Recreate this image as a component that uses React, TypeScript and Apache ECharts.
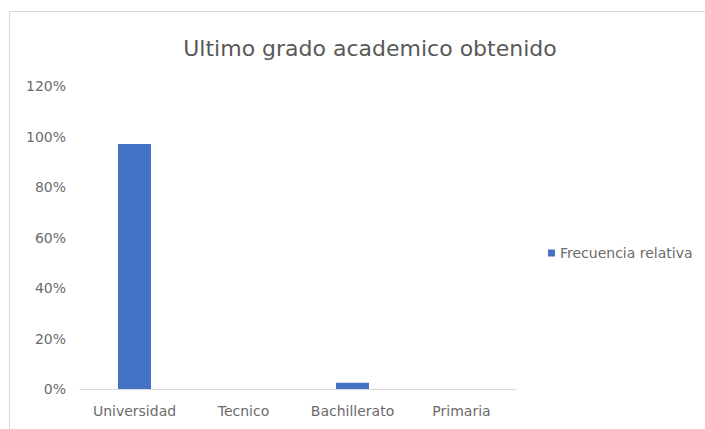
import React, { useEffect, useRef } from "react";
import * as echarts from "echarts";

const categories = ["Universidad", "Tecnico", "Bachillerato", "Primaria"];
const frecuenciaRelativa = [97, 0, 2.5, 0];
const seriesName = "Frecuencia relativa";
const titleText = "Ultimo grado academico obtenido";

export default function App() {
  const ref = useRef<HTMLDivElement>(null);
  useEffect(() => {
    if (!ref.current) return;
    const chart = echarts.init(ref.current, undefined, { renderer: "svg" });
    const font = "'DejaVu Sans', 'Open Sans', sans-serif";
    chart.setOption({
      animation: false,
      backgroundColor: "#ffffff",
      title: {
        text: titleText,
        left: 365,
        textAlign: "center",
        top: 32,
        textStyle: { fontFamily: font, fontSize: 22, fontWeight: "normal", color: "#595959" },
      },
      graphic: [
        {
          type: "rect",
          shape: { x: 9.5, y: 11.5, width: 720, height: 440 },
          style: { fill: "none", stroke: "#d9d9d9", lineWidth: 1 },
          silent: true,
        },
      ],
      legend: {
        orient: "vertical",
        left: 543,
        top: 241,
        icon: "rect",
        itemWidth: 7,
        itemHeight: 7,
        itemGap: 4,
        textStyle: { fontFamily: font, fontSize: 14, color: "#6b6b6b" },
        data: [seriesName],
      },
      grid: { left: 80, right: 189, top: 86, bottom: 40, containLabel: false },
      xAxis: {
        type: "category",
        data: categories,
        axisLine: { lineStyle: { color: "#d9d9d9", width: 1 } },
        axisTick: { show: false },
        axisLabel: { fontFamily: font, fontSize: 14, color: "#6b6b6b", margin: 15 },
      },
      yAxis: {
        type: "value",
        min: 0,
        max: 120,
        interval: 20,
        axisLine: { show: false },
        axisTick: { show: false },
        splitLine: { show: false },
        axisLabel: { fontFamily: font, fontSize: 14, color: "#6b6b6b", formatter: "{value}%", margin: 14 },
      },
      series: [
        {
          name: seriesName,
          type: "bar",
          data: frecuenciaRelativa,
          barWidth: 33,
          itemStyle: { color: "#4472c4" },
        },
      ],
    });
    return () => chart.dispose();
  }, []);
  return <div ref={ref} style={{ position: "fixed", left: 0, top: 0, width: 705, height: 429 }} />;
}
